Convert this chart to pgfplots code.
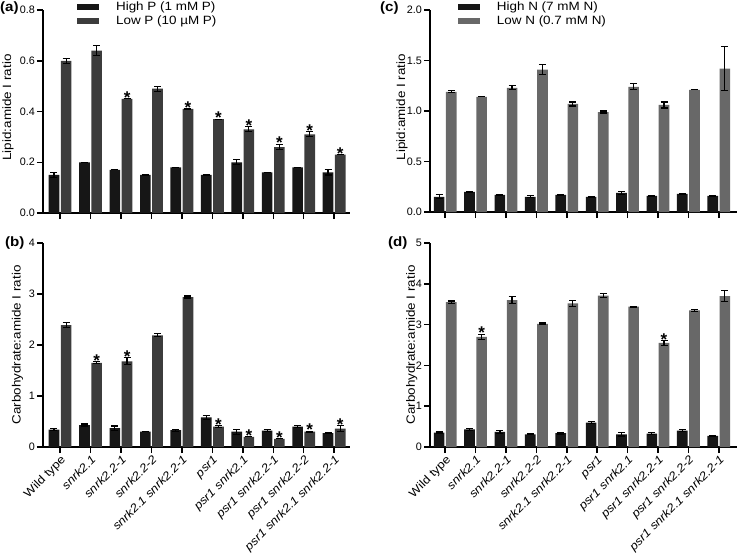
\documentclass[border=0pt]{standalone}
\usepackage{pgfplots}
\pgfplotsset{compat=1.18}
\usepackage{pgfplotstable}
\usepackage{fontspec}
\setmainfont{Liberation Sans}
\newfontfamily\lab{Liberation Sans}[FakeStretch=1.12]
\definecolor{barblack}{HTML}{161616}
\definecolor{lowp}{HTML}{3C3C3C}
\definecolor{lown}{HTML}{686868}

\pgfplotstableread{
x high herr low lerr star
0 0.15 0.01 0.60 0.01 0
1 0.20 0.00 0.64 0.02 0
2 0.17 0.00 0.45 0.00 1
3 0.15 0.00 0.49 0.01 0
4 0.18 0.00 0.41 0.00 1
5 0.15 0.00 0.37 0.00 1
6 0.20 0.01 0.33 0.01 1
7 0.16 0.00 0.26 0.01 1
8 0.18 0.00 0.31 0.01 1
9 0.16 0.01 0.23 0.00 1
}\dataA

\pgfplotstableread{
x high herr low lerr star
0 0.34 0.02 2.39 0.05 0
1 0.43 0.02 1.65 0.02 1
2 0.37 0.04 1.68 0.07 1
3 0.30 0.00 2.19 0.03 0
4 0.33 0.02 2.94 0.02 0
5 0.58 0.04 0.40 0.02 1
6 0.30 0.05 0.20 0.00 1
7 0.32 0.02 0.16 0.00 1
8 0.40 0.02 0.30 0.01 1
9 0.27 0.01 0.36 0.06 1
}\dataB

\pgfplotstableread{
x high herr low lerr star
0 0.15 0.02 1.19 0.01 0
1 0.20 0.005 1.14 0.00 0
2 0.17 0.005 1.23 0.02 0
3 0.15 0.01 1.41 0.05 0
4 0.17 0.005 1.07 0.02 0
5 0.15 0.005 0.99 0.01 0
6 0.19 0.015 1.24 0.03 0
7 0.16 0.005 1.06 0.03 0
8 0.18 0.005 1.21 0.00 0
9 0.16 0.005 1.42 0.22 0
}\dataC

\pgfplotstableread{
x high herr low lerr star
0 0.35 0.02 3.55 0.03 0
1 0.43 0.02 2.70 0.06 1
2 0.37 0.04 3.60 0.09 0
3 0.31 0.01 3.02 0.02 0
4 0.34 0.02 3.52 0.07 0
5 0.60 0.03 3.71 0.05 0
6 0.31 0.04 3.44 0.01 0
7 0.33 0.02 2.55 0.06 1
8 0.40 0.02 3.35 0.02 0
9 0.27 0.01 3.70 0.14 0
}\dataD

\pgfplotsset{
  panel/.style={
    scale only axis, width=307pt,
    axis x line*=bottom, axis y line*=left,
    axis line style={line width=1.8pt},
    tick style={black, line width=1.5pt},
    major tick length=6pt, tick align=outside,
    xmin=-0.56, xmax=9.52, xtick={0,...,9},
    ymin=0, clip=false,
    ylabel style={font=\lab\fontsize{12}{14}\selectfont, anchor=center},
    yticklabel style={font=\fontsize{10.8}{12}\selectfont, inner sep=2pt},
    /pgf/number format/assume math mode=true,
    legend style={draw=none, fill=none, inner sep=0pt, row sep=1.5pt,
      font=\lab\fontsize{12}{14}\selectfont, anchor=north west,
      nodes={inner sep=1pt},
      /tikz/every odd column/.append style={column sep=16pt}},
    legend cell align=left,
    legend image code/.code={\fill[##1] (0pt,-3pt) rectangle (22pt,3pt);},
  },
  toppanel/.style={panel, xticklabels={}},
  botpanel/.style={panel,
    xticklabels={Wild type, \textit{snrk2.1}, \textit{snrk2.2-1}, \textit{snrk2.2-2}, \textit{snrk2.1 snrk2.2-1}, \textit{psr1}, \textit{psr1 snrk2.1}, \textit{psr1 snrk2.2-1}, \textit{psr1 snrk2.2-2}, \textit{psr1 snrk2.1 snrk2.2-1}},
    xticklabel style={rotate=45, anchor=north east, inner sep=1pt, font=\lab\fontsize{11.5}{13}\selectfont},
  },
  barerr/.style={error bars/.cd, y dir=both, y explicit,
    error bar style={line width=1.2pt, black},
    error mark options={rotate=90, mark size=3.5pt, line width=1.2pt, black}},
  hibar/.style={ybar, bar width=0.35, bar shift=0pt, fill=barblack, draw=none, barerr},
  lobar/.style={ybar, bar width=0.35, bar shift=0pt, fill=#1, draw=none, barerr},
  stars/.style={draw=none, mark=none, forget plot,
    nodes near coords={*},
    every node near coord/.append style={anchor=base, yshift=-4.5pt, inner sep=0pt, font=\bfseries\fontsize{17}{17}\selectfont},
    restrict expr to domain={\thisrow{star}}{0.5:1.5}},
}
\tikzset{plab/.style={anchor=north west, inner sep=0pt, font=\lab\bfseries\fontsize{13.5}{15}\selectfont}}

\begin{document}
\begin{tikzpicture}
\path[use as bounding box] (0pt,0pt) rectangle (738pt,-559pt);

% (a)
\begin{axis}[toppanel, at={(43pt,-213pt)}, anchor=south west, height=203pt,
  ymax=0.8, ytick={0,0.2,0.4,0.6,0.8},
  yticklabel style={/pgf/number format/.cd, fixed, fixed zerofill, precision=1},
  ylabel={Lipid:amide I ratio},
  ylabel style={at={(axis description cs:-0.114,0.52)}},
  legend style={at={(rel axis cs:0.055,1.045)}, xshift=17pt}]
\addplot[hibar] table[x expr=\thisrow{x}-0.2, y=high, y error=herr] {\dataA};
\addlegendentry{High P (1 mM P)}
\addplot[lobar=lowp] table[x expr=\thisrow{x}+0.2, y=low, y error=lerr] {\dataA};
\addlegendentry{Low P (10 µM P)}
\addplot[stars] table[x expr=\thisrow{x}+0.2, y expr=\thisrow{low}+\thisrow{lerr}] {\dataA};
\end{axis}

% (b)
\begin{axis}[botpanel, at={(43pt,-447pt)}, anchor=south west, height=204pt,
  ymax=4, ytick={0,1,2,3,4},
  ylabel={Carbohydrate:amide I ratio},
  ylabel style={at={(axis description cs:-0.083,0.5)}}]
\addplot[hibar] table[x expr=\thisrow{x}-0.2, y=high, y error=herr] {\dataB};
\addplot[lobar=lowp] table[x expr=\thisrow{x}+0.2, y=low, y error=lerr] {\dataB};
\addplot[stars] table[x expr=\thisrow{x}+0.2, y expr=\thisrow{low}+\thisrow{lerr}] {\dataB};
\end{axis}

% (c)
\begin{axis}[toppanel, at={(430pt,-212pt)}, anchor=south west, height=202pt,
  xmin=-0.5, xmax=9.6,
  ymax=2, ytick={0,0.5,1,1.5,2},
  yticklabel style={/pgf/number format/.cd, fixed, fixed zerofill, precision=1},
  ylabel={Lipid:amide I ratio},
  ylabel style={at={(axis description cs:-0.091,0.52)}},
  legend style={at={(rel axis cs:0.035,1.045)}, xshift=17pt}]
\addplot[hibar] table[x expr=\thisrow{x}-0.2, y=high, y error=herr] {\dataC};
\addlegendentry{High N (7 mM N)}
\addplot[lobar=lown] table[x expr=\thisrow{x}+0.2, y=low, y error=lerr] {\dataC};
\addlegendentry{Low N (0.7 mM N)}
\end{axis}

% (d)
\begin{axis}[botpanel, at={(430pt,-447pt)}, anchor=south west, height=204pt,
  xmin=-0.5, xmax=9.6,
  ymax=5, ytick={0,1,2,3,4,5},
  ylabel={Carbohydrate:amide I ratio},
  ylabel style={at={(axis description cs:-0.059,0.5)}}]
\addplot[hibar] table[x expr=\thisrow{x}-0.2, y=high, y error=herr] {\dataD};
\addplot[lobar=lown] table[x expr=\thisrow{x}+0.2, y=low, y error=lerr] {\dataD};
\addplot[stars] table[x expr=\thisrow{x}+0.2, y expr=\thisrow{low}+\thisrow{lerr}] {\dataD};
\end{axis}

\node[plab] at (0pt,-2pt) {(a)};
\node[plab] at (5pt,-237pt) {(b)};
\node[plab] at (380pt,-2pt) {(c)};
\node[plab] at (388pt,-237pt) {(d)};
\end{tikzpicture}
\end{document}
